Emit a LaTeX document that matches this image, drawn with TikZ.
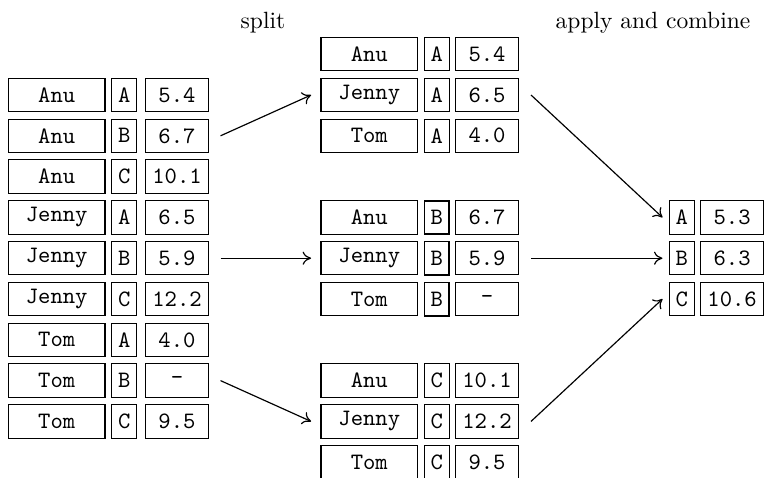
\documentclass[tikz,border=0pt]{standalone}
\usetikzlibrary{arrows.meta}
\begin{document}
\begin{tikzpicture}[x=0.4255pt,y=-0.4255pt,
  cell/.style={draw, line width=0.45pt, minimum height=14.2pt, inner sep=0pt, font=\ttfamily},
  namecell/.style={cell, minimum width=41.1pt},
  keycell/.style={cell, minimum width=10.6pt},
  valcell/.style={cell, minimum width=26.6pt},
  title/.style={inner sep=0pt},
  conn/.style={-{To[length=3.6pt,width=5.6pt]}, line width=0.5pt}]
\useasboundingbox (0,0) rectangle (764,477);

% titles
\node[title] (split) at (263,23) {split};
\node[title] (apply) at (653,23) {apply and combine};

% left table
\foreach \i/\n/\k/\v [evaluate=\i as \y using 95+40.8*\i] in
  {0/Anu/A/5.4, 1/Anu/B/6.7, 2/Anu/C/10.1,
   3/Jenny/A/6.5, 4/Jenny/B/5.9, 5/Jenny/C/12.2,
   6/Tom/A/4.0, 7/Tom/B/-, 8/Tom/C/9.5}{
  \node[namecell] (L\i n) at (56.7,\y) {\n};
  \node[keycell]  (L\i k) at (124.2,\y) {\k};
  \node[valcell]  (L\i v) at (177,\y) {\v};
}

% middle table (split groups)
\foreach \j/\g/\n/\k/\v/\w [evaluate=\g as \y using 95+40.8*\g] in
  {1/-1/Anu/A/5.4/0.45, 2/0/Jenny/A/6.5/0.45, 3/1/Tom/A/4.0/0.45,
   4/3/Anu/B/6.7/0.7, 5/4/Jenny/B/5.9/0.7, 6/5/Tom/B/-/0.7,
   7/7/Anu/C/10.1/0.45, 8/8/Jenny/C/12.2/0.45, 9/9/Tom/C/9.5/0.45}{
  \node[namecell] (M\j n) at (369.3,\y) {\n};
  \node[keycell, line width=\w pt] (M\j k) at (436.8,\y) {\k};
  \node[valcell]  (M\j v) at (487,\y) {\v};
}

% right table (combined)
\foreach \j/\g/\k/\v [evaluate=\g as \y using 95+40.8*\g] in
  {1/3/A/5.3, 2/4/B/6.3, 3/5/C/10.6}{
  \node[keycell] (R\j k) at (681.8,\y) {\k};
  \node[valcell] (R\j v) at (732.1,\y) {\v};
}

% connectors
\draw[conn] ([xshift=5pt]L1v.east) -- ([xshift=-4pt]M2n.west);
\draw[conn] ([xshift=5pt]L4v.east) -- ([xshift=-4pt]M5n.west);
\draw[conn] ([xshift=5pt]L7v.east) -- ([xshift=-4pt]M8n.west);
\draw[conn] ([xshift=5.2pt]M2v.east) -- ([xshift=-2.7pt]R1k.west);
\draw[conn] ([xshift=5.2pt]M5v.east) -- ([xshift=-2.7pt]R2k.west);
\draw[conn] ([xshift=5.2pt]M8v.east) -- ([xshift=-2.7pt]R3k.west);
\end{tikzpicture}
\end{document}
